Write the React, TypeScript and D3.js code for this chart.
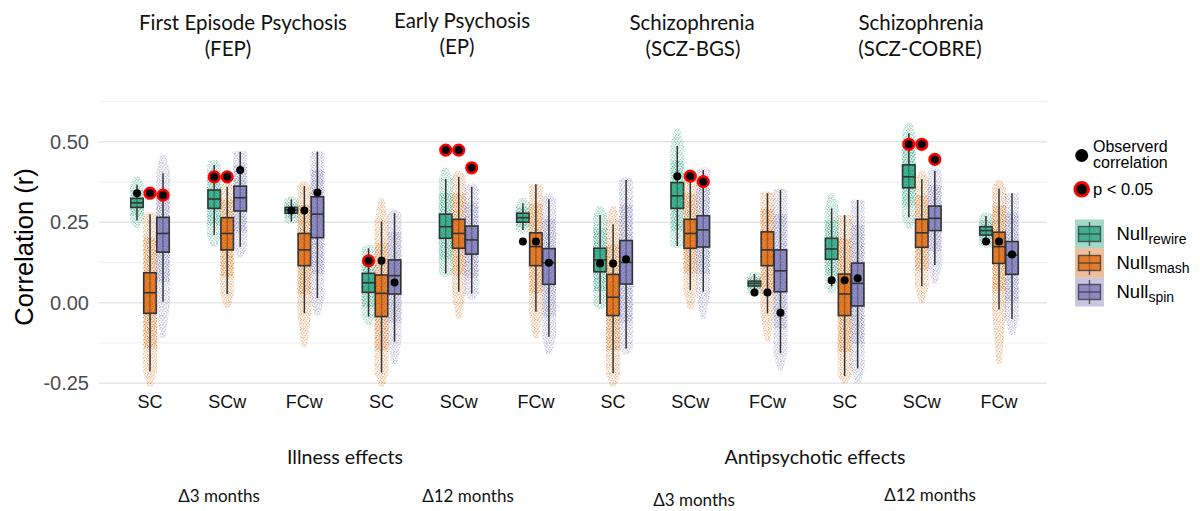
import React from 'react';
import * as d3 from 'd3';

// cohorts x connectivity measure, 12 x-positions
const cohorts = ['FEP', 'EP', 'SCZ-BGS', 'SCZ-COBRE'];
const measures = ['SC', 'SCw', 'FCw'];
const categories = cohorts.flatMap(c => measures.map(m => `${c}|${m}`));

const nullNames = ['rewire', 'smash', 'spin'];
const nullColors = ['#1b9e77', '#d95f02', '#7570b3'];

// box stats per category: [lower whisker, q1, median, q3, upper whisker]
const rewireBoxes = [
  [0.255, 0.296, 0.310, 0.324, 0.366], [0.210, 0.293, 0.322, 0.350, 0.428], [0.252, 0.278, 0.288, 0.296, 0.321],
  [-0.043, 0.032, 0.062, 0.091, 0.169], [0.091, 0.200, 0.236, 0.275, 0.384], [0.226, 0.250, 0.264, 0.278, 0.309],
  [-0.004, 0.096, 0.133, 0.169, 0.272], [0.176, 0.293, 0.332, 0.373, 0.487], [0.029, 0.052, 0.060, 0.067, 0.089],
  [0.050, 0.135, 0.167, 0.200, 0.293], [0.265, 0.357, 0.391, 0.428, 0.526], [0.179, 0.210, 0.224, 0.236, 0.269],
];
const smashBoxes = [
  [-0.214, -0.033, 0.031, 0.093, 0.275], [0.027, 0.164, 0.215, 0.264, 0.360], [-0.033, 0.115, 0.164, 0.215, 0.362],
  [-0.217, -0.043, 0.029, 0.086, 0.252], [0.034, 0.169, 0.215, 0.259, 0.391], [-0.028, 0.115, 0.174, 0.217, 0.368],
  [-0.219, -0.040, 0.017, 0.088, 0.244], [0.039, 0.169, 0.215, 0.259, 0.393], [-0.033, 0.115, 0.164, 0.220, 0.340],
  [-0.228, -0.040, 0.027, 0.089, 0.272], [0.052, 0.172, 0.217, 0.259, 0.383], [-0.021, 0.122, 0.174, 0.219, 0.355],
];
const spinBoxes = [
  [0.003, 0.157, 0.215, 0.265, 0.402], [0.174, 0.285, 0.326, 0.362, 0.469], [0.014, 0.202, 0.275, 0.329, 0.469],
  [-0.121, 0.027, 0.084, 0.133, 0.278], [0.029, 0.151, 0.195, 0.238, 0.360], [-0.106, 0.057, 0.124, 0.168, 0.321],
  [-0.142, 0.058, 0.125, 0.193, 0.381], [0.034, 0.173, 0.226, 0.270, 0.412], [-0.157, 0.034, 0.099, 0.164, 0.350],
  [-0.204, -0.010, 0.060, 0.123, 0.319], [0.117, 0.224, 0.262, 0.300, 0.410], [-0.051, 0.088, 0.148, 0.190, 0.340],
];

// extent of the jittered null samples: [min, max]
const rewireRange = [
  [0.232, 0.393], [0.174, 0.443], [0.245, 0.330], [-0.070, 0.180], [0.080, 0.420], [0.215, 0.325],
  [-0.020, 0.300], [0.170, 0.540], [0.020, 0.095], [0.030, 0.340], [0.230, 0.560], [0.170, 0.280],
];
const smashRange = [
  [-0.260, 0.280], [-0.017, 0.376], [-0.137, 0.376], [-0.260, 0.324], [-0.050, 0.410], [-0.110, 0.350],
  [-0.260, 0.300], [-0.020, 0.410], [-0.120, 0.345], [-0.250, 0.240], [0.000, 0.410], [-0.190, 0.380],
];
const spinRange = [
  [-0.110, 0.459], [0.140, 0.470], [-0.040, 0.470], [-0.190, 0.290], [0.010, 0.370], [-0.160, 0.340],
  [-0.160, 0.390], [-0.050, 0.420], [-0.210, 0.355], [-0.250, 0.320], [0.060, 0.420], [-0.100, 0.320],
];

// observed correlation and significance per null
const obsRewire = [0.340, 0.391, 0.286, 0.130, 0.474, 0.190, 0.122, 0.393, 0.032, 0.070, 0.492, 0.190];
const obsSmash = [0.340, 0.391, 0.286, 0.130, 0.474, 0.190, 0.122, 0.393, 0.032, 0.070, 0.492, 0.190];
const obsSpin = [0.334, 0.412, 0.342, 0.063, 0.419, 0.124, 0.135, 0.376, -0.031, 0.076, 0.445, 0.150];
const sigRewire = [false, true, false, true, true, false, false, false, false, false, true, false];
const sigSmash = [true, true, false, false, true, false, false, true, false, false, true, false];
const sigSpin = [true, false, false, false, true, false, false, true, false, false, true, false];

const yTicks = [-0.25, 0, 0.25, 0.5];
const yTickLabels = ['-0.25', '0.00', '0.25', '0.50'];
const yMinor = [-0.125, 0.125, 0.375, 0.625];

const titleLines = [
  ['First Episode Psychosis', '(FEP)'],
  ['Early Psychosis', '(EP)'],
  ['Schizophrenia', '(SCZ-BGS)'],
  ['Schizophrenia', '(SCZ-COBRE)'],
];
const effectLabels = ['Illness effects', 'Antipsychotic effects'];
const intervalLabels = ['\u03943 months', '\u039412 months', '\u03943 months', '\u039412 months'];

const boxes = [rewireBoxes, smashBoxes, spinBoxes];
const ranges = [rewireRange, smashRange, spinRange];
const observed = [obsRewire, obsSmash, obsSpin];
const significant = [sigRewire, sigSmash, sigSpin];

const W = 1200, H = 511;
const panelLeft = 99, panelRight = 1047;
const dodge = 13, boxW = 12.5, cloudW = 14;
const sans = '"Liberation Sans", Arial, sans-serif';
const calib = 'Lato, "Open Sans", sans-serif';

// placement of the hand-added annotation text
const titlePos = [[243, 228], [462, 457], [692, 693], [921, 920]];
const effectPos = [345, 815];
const intervalPos = [[219, 502], [468, 502], [694, 506], [930, 501]];

// speckle texture tile (9x9) for the jittered clouds
const speckle = [
  [0.6, 0.8], [3.4, 0.3], [6.9, 1.1], [2.0, 2.4], [5.1, 2.0], [8.2, 3.0], [0.9, 4.3], [3.8, 4.0],
  [6.4, 4.6], [2.6, 6.1], [5.3, 6.6], [8.0, 5.9], [0.4, 7.4], [4.1, 8.3], [7.2, 8.1], [1.7, 8.6],
];

const App = () => {
  const x = d3.scalePoint<string>().domain(categories).range([150, 999]);
  const y = d3.scaleLinear().domain([-0.25, 0.5]).range([383.2, 141.7]);

  const cloudPath = (cx: number, rmin: number, lo: number, hi: number, rmax: number) => {
    const tip = 2.5, half = cloudW / 2;
    const top = y(Math.max(rmax, hi)), bot = y(Math.min(rmin, lo));
    return `M${cx - tip},${top}L${cx + tip},${top}L${cx + half},${y(hi)}L${cx + half},${y(lo)}` +
      `L${cx + tip},${bot}L${cx - tip},${bot}L${cx - half},${y(lo)}L${cx - half},${y(hi)}Z`;
  };

  return (
    <svg width={W} height={H} style={{position: 'absolute', left: 0, top: 0, background: '#fff'}}>
      <defs>
        {nullColors.map((c, k) => (
          <pattern key={k} id={`dots-${k}`} patternUnits="userSpaceOnUse" width={9} height={9}
                   patternTransform={`translate(${k * 3},${k * 5})`}>
            {speckle.map((p, j) => <circle key={j} cx={p[0]} cy={p[1]} r={0.7} fill={c} />)}
          </pattern>
        ))}
      </defs>

      {/* grid */}
      {yMinor.map(v => (
        <line key={'m' + v} x1={panelLeft} x2={panelRight} y1={y(v)} y2={y(v)} stroke="#ededed" strokeWidth={0.9} />
      ))}
      {yTicks.map(v => (
        <line key={'M' + v} x1={panelLeft} x2={panelRight} y1={y(v)} y2={y(v)} stroke="#e6e6e6" strokeWidth={1.6} />
      ))}

      {/* null distributions */}
      {categories.map((cat, i) => nullNames.map((n, k) => {
        const cx = (x(cat) as number) + (k - 1) * dodge;
        const [lo, q1, med, q3, hi] = boxes[k][i];
        const [rmin, rmax] = ranges[k][i];
        const c = nullColors[k];
        const dTop = q3 + (hi - q3) * 0.6, dBot = q1 - (q1 - lo) * 0.6;
        return (
          <g key={cat + n}>
            <path d={cloudPath(cx, rmin, lo, hi, rmax)} fill={`url(#dots-${k})`} opacity={0.5} />
            <rect x={cx - cloudW / 2} y={y(dTop)} width={cloudW} height={y(dBot) - y(dTop)} fill={`url(#dots-${k})`} opacity={0.45} />
            <path d={cloudPath(cx, rmin, lo, hi, rmax)} fill={c} opacity={0.06} />
            <rect x={cx - cloudW / 2 + 1} y={y(dTop)} width={cloudW - 2} height={y(dBot) - y(dTop)} fill={c} opacity={0.12} />
            <line x1={cx} x2={cx} y1={y(hi)} y2={y(lo)} stroke="#333" strokeWidth={1.5} />
            <rect x={cx - boxW / 2} y={y(q3)} width={boxW} height={y(q1) - y(q3)} fill={c} fillOpacity={0.72} />
            <rect x={cx - boxW / 2} y={y(q3)} width={boxW} height={y(q1) - y(q3)} fill={`url(#dots-${k})`} opacity={0.5} />
            <rect x={cx - boxW / 2} y={y(q3)} width={boxW} height={y(q1) - y(q3)} fill="none" stroke="#333" strokeWidth={1.6} />
            <line x1={cx - boxW / 2} x2={cx + boxW / 2} y1={y(med)} y2={y(med)} stroke="#333" strokeWidth={1.6} />
          </g>
        );
      }))}

      {/* observed correlations */}
      {categories.map((cat, i) => nullNames.map((n, k) => {
        const cx = (x(cat) as number) + (k - 1) * dodge;
        const v = observed[k][i];
        return significant[k][i]
          ? <circle key={'o' + cat + n} cx={cx} cy={y(v)} r={5.3} fill="#000" stroke="#ff0000" strokeWidth={2.6} />
          : <circle key={'o' + cat + n} cx={cx} cy={y(v)} r={4} fill="#000" />;
      }))}

      {/* y axis */}
      {yTicks.map((v, j) => (
        <text key={'t' + v} x={89} y={y(v) + 7} textAnchor="end" fontFamily={sans} fontSize={20} fill="#4d4d4d">{yTickLabels[j]}</text>
      ))}
      <text transform="translate(33,247) rotate(-90)" textAnchor="middle" fontFamily={sans} fontSize={25.5} fill="#000">Correlation (r)</text>

      {/* x labels */}
      {categories.map(cat => (
        <text key={'x' + cat} x={x(cat)} y={408} textAnchor="middle" fontFamily={sans} fontSize={18} fill="#111">{cat.split('|')[1]}</text>
      ))}

      {/* legend */}
      <circle cx={1081.7} cy={155.5} r={6.5} fill="#000" />
      <text x={1093} y={152} fontFamily={sans} fontSize={16} fill="#000">Observerd</text>
      <text x={1093} y={168} fontFamily={sans} fontSize={16} fill="#000">correlation</text>
      <circle cx={1081.7} cy={189.3} r={6.8} fill="#000" stroke="#ff0000" strokeWidth={3} />
      <text x={1093} y={195} fontFamily={sans} fontSize={16.5} fill="#000">p &lt; 0.05</text>
      {nullNames.map((n, k) => {
        const top = 219.5 + k * 29;
        const cx = 1089.5;
        return (
          <g key={'lg' + n}>
            <rect x={1075} y={top} width={29} height={29} fill={nullColors[k]} opacity={0.4} />
            <line x1={cx} x2={cx} y1={top + 2.5} y2={top + 26.5} stroke="#333" strokeOpacity={0.75} strokeWidth={1.4} />
            <rect x={1078.5} y={top + 7} width={22} height={15} fill={nullColors[k]} fillOpacity={0.7} stroke="#333" strokeOpacity={0.75} strokeWidth={1.4} />
            <line x1={1078.5} x2={1100.5} y1={top + 14.5} y2={top + 14.5} stroke="#333" strokeOpacity={0.75} strokeWidth={1.4} />
            <text x={1116.5} y={top + 20.5} fontFamily={sans} fontSize={18.5} fill="#000">
              Null<tspan fontSize={14} dy={4}>{n}</tspan>
            </text>
          </g>
        );
      })}

      {/* cohort titles */}
      {titleLines.map((lines, j) => (
        <g key={'tt' + j}>
          <text x={titlePos[j][0]} y={j === 1 ? 28 : 30} textAnchor="middle" fontFamily={calib} fontSize={20.5} fill="#111">{lines[0]}</text>
          <text x={titlePos[j][1]} y={j === 1 ? 54 : 56} textAnchor="middle" fontFamily={calib} fontSize={20.5} fill="#111">{lines[1]}</text>
        </g>
      ))}

      {/* effect annotations */}
      {effectLabels.map((t, j) => (
        <text key={'e' + j} x={effectPos[j]} y={464} textAnchor="middle" fontFamily={calib} fontSize={19.6} fill="#111">{t}</text>
      ))}
      {intervalLabels.map((t, j) => (
        <text key={'d' + j} x={intervalPos[j][0]} y={intervalPos[j][1]} textAnchor="middle" fontFamily={calib} fontSize={17} fill="#111">{t}</text>
      ))}
    </svg>
  );
};

export default App;
